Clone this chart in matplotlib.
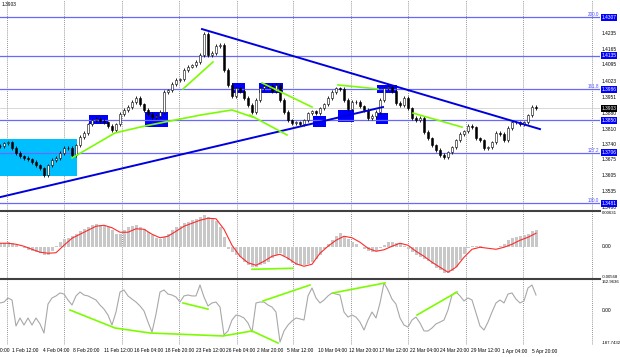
import numpy as np
import matplotlib.pyplot as plt
from matplotlib.patches import Rectangle

plt.rcParams['font.family'] = ['Liberation Sans Narrow', 'Liberation Sans', 'DejaVu Sans']

# --- цены закрытия свечей (H4, шаг ~2 бара) ---
closes = [
    1.3735, 1.3748, 1.3752, 1.3726, 1.3704, 1.3690, 1.3682, 1.3677, 1.3664, 1.3650,
    1.3637, 1.3606, 1.3650, 1.3673, 1.3682, 1.3704, 1.3726, 1.3726, 1.3695, 1.3739,
    1.3775, 1.3793, 1.3832, 1.3850, 1.3855, 1.3846, 1.3841, 1.3824, 1.3806, 1.3832,
    1.3877, 1.3895, 1.3908, 1.3930, 1.3948, 1.3921, 1.3895, 1.3877, 1.3863, 1.3868,
    1.3886, 1.3975, 1.3983, 1.4010, 1.4028, 1.4032, 1.4072, 1.4086, 1.4094, 1.4108,
    1.4139, 1.4232, 1.4139, 1.4148, 1.4179, 1.4183, 1.4072, 1.4006, 1.3957, 1.3992,
    1.3979, 1.3948, 1.3917, 1.3886, 1.3939, 1.3992, 1.4001, 1.4001, 1.3979, 1.4006,
    1.3939, 1.3886, 1.3850, 1.3837, 1.3841, 1.3832, 1.3850, 1.3881, 1.3890, 1.3881,
    1.3903, 1.3921, 1.3948, 1.3975, 1.3992, 1.3988, 1.3939, 1.3899, 1.3930, 1.3930,
    1.3912, 1.3895, 1.3859, 1.3868, 1.3886, 1.3939, 1.3992, 1.3997, 1.3979, 1.3926,
    1.3917, 1.3948, 1.3903, 1.3859, 1.3850, 1.3859, 1.3797, 1.3770, 1.3739, 1.3717,
    1.3695, 1.3686, 1.3708, 1.3730, 1.3761, 1.3788, 1.3801, 1.3824, 1.3819, 1.3770,
    1.3761, 1.3726, 1.3730, 1.3752, 1.3793, 1.3788, 1.3761, 1.3815, 1.3841, 1.3841,
    1.3832, 1.3841, 1.3872, 1.3908, 1.3903,
]

# MACD: гистограмма и сигнальная линия (в единицах 1e-5)
macd_hist_e5 = [
    63, 72, 81, 63, 27, -9, -27, -54, -81, -98,
    -116, -152, -152, -81, 9, 81, 134, 161, 197, 233,
    277, 322, 358, 385, 403, 394, 376, 349, 295, 224,
    224, 295, 349, 376, 385, 358, 322, 260, 206, 161,
    134, 170, 233, 304, 349, 376, 421, 448, 474, 501,
    537, 564, 528, 510, 465, 349, 170, -45, -98, -143,
    -188, -277, -331, -367, -358, -331, -304, -269, -206, -152,
    -116, -170, -242, -295, -331, -331, -331, -313, -277, -224,
    -152, -45, 45, 116, 197, 242, 170, 143, 90, 45,
    -9, -36, -72, -90, -81, -27, 27, 81, 81, 72,
    63, 18, -45, -98, -152, -188, -224, -260, -313, -376,
    -421, -474, -465, -439, -367, -242, -134, -27, 18, 18,
    9, 0, -9, -9, -9, 9, 45, 116, 152, 170,
    188, 206, 233, 277, 295,
]
# сигнальная линия - каждый второй бар
macd_signal_e5 = [
    63, 63, 45, 9, -45, -98, -116, -107, 27, 152,
    224, 295, 367, 385, 340, 260, 260, 322, 313, 224,
    161, 188, 277, 367, 421, 474, 510, 501, 313, 27,
    -170, -286, -331, -260, -170, -134, -206, -304, -349, -313,
    -116, 9, 116, 188, 161, 81, -27, -81, -54, 9,
    63, 27, -81, -170, -277, -367, -456, -367, -188, -45,
    -9, -27, -45, -9, 45, 116, 170, 242,
]

# CCI
cci = [
    39, 44, 66, 55, -85, -42, -80, -42, -80, -42,
    -74, -123, 33, 66, 77, 93, 87, 55, 28, 77,
    98, 82, 77, 66, 55, 28, 6, -26, -80, -10,
    98, 109, 77, 60, 44, 23, -4, -64, -118, -21,
    98, 109, 87, 82, 71, 44, 77, 82, 77, 77,
    136, 71, 23, 39, 44, 17, -134, -112, -53, -26,
    -31, -42, -69, -118, 39, 44, 44, 28, 17, -10,
    -172, -112, -80, -58, -42, -47, -53, 77, 120, 66,
    39, 55, 77, 93, 87, 82, -10, -37, -26, -37,
    -64, -107, -53, -10, -42, 39, 147, 109, 60, 33,
    -42, -80, -91, -53, -37, -69, -112, -112, -96, -74,
    -64, -53, 1, 82, 98, 77, 50, 66, 55, -15,
    -85, -107, -64, -10, 39, 55, 39, 87, 93, 60,
    39, 50, 120, 136, 82,
]

# уровни Фибоначчи и прочие горизонтали
levels = [1.4307, 1.4135, 1.3986, 1.3850, 1.3706, 1.3481]
level_tags = ['200.0', '', '161.8', '', '127.2', '100.0']
price_ticks = [1.4307, 1.4235, 1.4165, 1.4095, 1.4023, 1.3951, 1.3880, 1.3810,
               1.3740, 1.3675, 1.3605, 1.3535, 1.3460]
last_price = 1.3903

macd_top, macd_bottom = 0.00631, -0.00568
cci_top, cci_bottom = 162.9636, -187.7432

date_labels = ['27 Jan 20:00', '1 Feb 12:00', '4 Feb 04:00', '8 Feb 20:00',
               '11 Feb 12:00', '16 Feb 04:00', '18 Feb 20:00', '23 Feb 12:00',
               '26 Feb 04:00', '2 Mar 20:00', '5 Mar 12:00', '10 Mar 04:00',
               '12 Mar 20:00', '17 Mar 12:00', '22 Mar 04:00', '24 Mar 20:00',
               '29 Mar 12:00', '1 Apr 04:00', '5 Apr 20:00']

# трендовые линии: (бар, цена)
fall_line = [(50.5, 1.4254), (135, 1.3810)]
rise_line = [(0, 1.3508), (95.75, 1.3908)]
green_main = [
    [(18, 1.3682), (28.75, 1.3793), (36.25, 1.3824), (50, 1.3872), (58, 1.3895), (63.25, 1.3863)],
    [(45.75, 1.3988), (53.25, 1.4108)],
    [(62.5, 1.3872), (71.75, 1.3784)],
    [(65.5, 1.4015), (78, 1.3908)],
    [(84.5, 1.4006), (94.5, 1.3988)],
    [(103.25, 1.3881), (115.5, 1.3819)],
]
green_macd = [[(63, -0.00403), (73.25, -0.00385)]]
green_cci = [
    [(17.5, 1), (28.75, -96), (37.5, -123), (55.75, -139), (63, -112), (69.5, -177)],
    [(45.75, 39), (52, 6)],
    [(65.75, 50), (77.5, 136)],
    [(83.25, 93), (96.25, 147)],
    [(104.25, -26), (114.25, 98)],
]
# прямоугольники: (бар0, бар1, цена_низ, цена_верх)
blue_boxes = [(22.25, 27, 1.3832, 1.3872), (36.25, 42, 1.3819, 1.3886),
              (58, 61.25, 1.3970, 1.4015), (64.75, 70.75, 1.3970, 1.4015),
              (78.25, 81.5, 1.3819, 1.3868), (84.5, 88.5, 1.3841, 1.3895),
              (94, 97, 1.3832, 1.3881), (94.25, 99.25, 1.3970, 1.4006)]
cyan_box = (-1, 19.25, 1.3602, 1.3766)

W, H = 620, 357
grid_px = [7, 64, 122, 179, 237, 293, 351, 408, 466, 523, 592]
FS = 3.5

fig = plt.figure(figsize=(W / 100, H / 100), dpi=100)
fig.patch.set_facecolor('white')


def pane(top, bottom):
    ax = fig.add_axes([0, 1 - bottom / H, 600 / W, (bottom - top) / H])
    ax.set_xlim(0, 150)
    ax.axis('off')
    for g in grid_px:
        ax.axvline(g / 4, color='#707070', lw=0.6, ls=(0, (1, 1.5)), zorder=0)
    return ax


ax = pane(0, 210)
ax_m = pane(211.5, 278.5)
ax_c = pane(280, 345)
ax.set_ylim(1.3451, 1.4383)
ax_m.set_ylim(macd_bottom, macd_top)
ax_c.set_ylim(cci_bottom, cci_top)

# ---- основной график ----
ax.add_patch(Rectangle((cyan_box[0], cyan_box[2]), cyan_box[1] - cyan_box[0],
                       cyan_box[3] - cyan_box[2], fc='#00bfff', ec='none', zorder=1))
for x0, x1, p0, p1 in blue_boxes:
    ax.add_patch(Rectangle((x0, p0), x1 - x0, p1 - p0, fc='#0000ff', ec='none', zorder=1))

for lv in levels:
    ax.axhline(lv, color='#6868ff', lw=0.9, zorder=2)
ax.axhline(last_price, color='#c8c8c8', lw=0.5, zorder=1)

for i, c in enumerate(closes):
    o = closes[i - 1] if i else c
    ax.vlines(i, min(o, c) - 0.0007, max(o, c) + 0.0007, color='black', lw=0.6, zorder=3)
    ax.bar(i, max(abs(c - o), 0.00004), bottom=min(o, c), width=0.65,
           facecolor='white' if c >= o else 'black', edgecolor='black', lw=0.4, zorder=4)

for ln in (fall_line, rise_line):
    xs, ys = zip(*ln)
    ax.plot(xs, ys, color='#0000dd', lw=1.4, zorder=5)
for ln in green_main:
    xs, ys = zip(*ln)
    ax.plot(xs, ys, color='#7cfc00', lw=1.2, zorder=5)

XL = 601.5 / 600
yt = ax.get_yaxis_transform()
for p in price_ticks:
    ax.text(XL, p, f'{p:.4f}', transform=yt, fontsize=FS, va='center', ha='left', clip_on=False)
for lv, tag in zip(levels, level_tags):
    ax.text(XL, lv, f'{lv:.4f}', transform=yt, fontsize=FS, color='white', va='center',
            ha='left', clip_on=False, bbox=dict(boxstyle='square,pad=0.2', fc='#0000ff', ec='none'))
    if tag:
        ax.text(599 / 600, lv, tag, transform=yt, fontsize=3.3, color='#5050ff',
                va='bottom', ha='right', clip_on=False)
ax.text(XL, last_price, f'{last_price:.4f}', transform=yt, fontsize=FS, color='white',
        va='center', ha='left', clip_on=False, bbox=dict(boxstyle='square,pad=0.2', fc='black', ec='none'))

# ---- MACD ----
x = np.arange(len(macd_hist_e5))
ax_m.bar(x, np.array(macd_hist_e5) * 1e-5, width=0.75, color='#c8c8c8', zorder=2)
ax_m.plot(np.arange(len(macd_signal_e5)) * 2, np.array(macd_signal_e5) * 1e-5,
          color='#ff2a2a', lw=0.8, zorder=3)
for ln in green_macd:
    xs, ys = zip(*ln)
    ax_m.plot(xs, ys, color='#7cfc00', lw=1.2, zorder=4)
FS2 = 3.1
ym = ax_m.get_yaxis_transform()
ax_m.text(XL, macd_top, f'{macd_top:.5f}', transform=ym, fontsize=FS2, va='top', clip_on=False)
ax_m.text(XL, 0, '0.00', transform=ym, fontsize=FS, va='center', clip_on=False)
ax_m.text(XL, macd_bottom, f'{macd_bottom:.5f}', transform=ym, fontsize=FS2, va='bottom', clip_on=False)

# ---- CCI ----
ax_c.plot(np.arange(len(cci)), cci, color='#a8a8a8', lw=0.8, zorder=2)
for ln in green_cci:
    xs, ys = zip(*ln)
    ax_c.plot(xs, ys, color='#7cfc00', lw=1.2, zorder=3)
yc = ax_c.get_yaxis_transform()
ax_c.text(XL, cci_top, f'{cci_top:.4f}', transform=yc, fontsize=FS2, va='top', clip_on=False)
ax_c.text(XL, 0, '0.00', transform=yc, fontsize=FS, va='center', clip_on=False)
ax_c.text(XL, cci_bottom, f'{cci_bottom:.4f}', transform=yc, fontsize=FS2, va='bottom', clip_on=False)

# разделители окон
for yy in (210.7, 279.2):
    fig.add_artist(plt.Line2D([0, 600 / W], [1 - yy / H] * 2, color='#404040', lw=1.5))

# подписи дат (первая частично за краем, как в оригинале)
for k, lab in enumerate(date_labels):
    xp = 12 + 30.6 * (k - 1)
    fig.text(xp / W, 1 - 351 / H, lab, fontsize=FS, ha='left', va='center')

fig.text(2 / W, 1 - 2 / H, '1.3903', fontsize=FS, va='top')

fig.savefig('out.png', dpi=100)
